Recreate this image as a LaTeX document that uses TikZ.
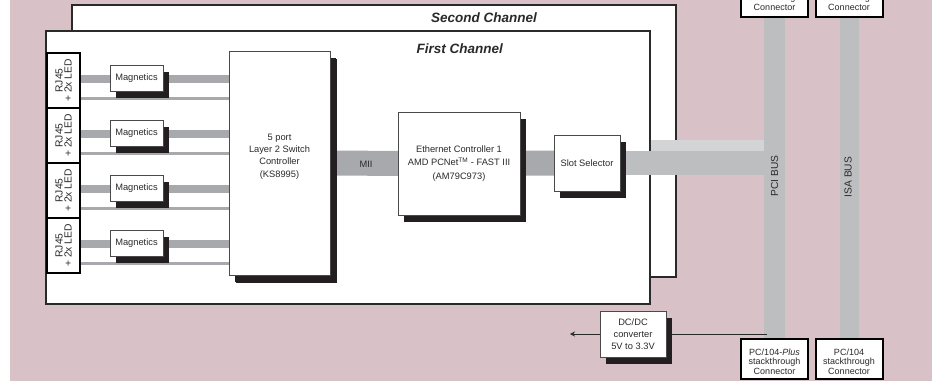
\documentclass[tikz,border=0pt]{standalone}
\usepackage{fontspec}
\setmainfont{Liberation Sans}
\usetikzlibrary{shadows,arrows.meta}
\definecolor{bgpink}{HTML}{D8C1C7}
\definecolor{bardark}{HTML}{A7A9AC}
\definecolor{barmid}{HTML}{BCBEC0}
\definecolor{barlight}{HTML}{D3D4D6}
\definecolor{shad}{HTML}{231F20}
\definecolor{ink}{HTML}{2A2A2A}
\pgfdeclarelayer{bg}
\pgfdeclarelayer{bars}
\pgfsetlayers{bg,bars,main}
\tikzset{
  blk/.style={draw=ink!85, line width=0.8pt, fill=white, inner sep=1pt, align=center,
    text=ink, font=\fontsize{9.3}{12.5}\selectfont,
    drop shadow={shadow xshift=6pt, shadow yshift=-7pt, opacity=1, fill=shad}},
  txt/.style={inner sep=0pt, align=center, text=ink, font=\fontsize{9.3}{12.3}\selectfont},
  rjbox/.style={rotate=90, draw=black, line width=2pt, fill=white, minimum width=55pt,
    minimum height=33pt, inner sep=0pt, align=center, text=ink,
    font=\fontsize{10.3}{9}\selectfont},
  conbox/.style={draw=black, line width=2pt, fill=white, minimum width=67pt,
    minimum height=40pt, inner sep=0pt},
  contxt/.style={inner sep=0pt, align=center, text=ink, font=\fontsize{9}{9.7}\selectfont},
  chanbox/.style={draw=ink, line width=1.2pt, fill=white},
  chantitle/.style={font=\fontsize{13.5}{14}\selectfont\bfseries\itshape, text=ink, inner sep=0pt},
  buslabel/.style={rotate=90, inner sep=0pt, text=ink, font=\fontsize{10.2}{11}\selectfont},
  thickbar/.style={draw=bardark, line width=8pt},
  thinbar/.style={draw=bardark, line width=3pt},
  wbar/.style={draw=bardark, line width=25pt},
  midbar/.style={draw=barmid, line width=24pt},
  lightbar/.style={draw=barlight, line width=24pt},
  busbar/.style={draw=barmid},
  wire/.style={draw=ink, line width=0.8pt}
}
\begin{document}
\begin{tikzpicture}[x=1pt,y=-1pt]
\useasboundingbox (0,0) rectangle (932,381);

% ---------------- nodes (main layer)
\node[chantitle, anchor=east] (title2) at (537,18) {Second Channel};
\node[chantitle, anchor=east] (title1) at (503,48.5) {First Channel};

\node[rjbox] (rj1) at (63.5,80.5) {RJ45\\+ 2x LED};
\node[rjbox] (rj2) at (63.5,135.5) {RJ45\\+ 2x LED};
\node[rjbox] (rj3) at (63.5,190.5) {RJ45\\+ 2x LED};
\node[rjbox] (rj4) at (63.5,245.5) {RJ45\\+ 2x LED};

\node[blk, minimum width=53pt, minimum height=26pt] (mag1) at (136.5,78) {Magnetics};
\node[blk, minimum width=53pt, minimum height=26pt] (mag2) at (136.5,133) {Magnetics};
\node[blk, minimum width=53pt, minimum height=26pt] (mag3) at (136.5,188) {Magnetics};
\node[blk, minimum width=53pt, minimum height=26pt] (mag4) at (136.5,243) {Magnetics};

\node[blk, minimum width=101pt, minimum height=224pt,
  drop shadow={shadow xshift=7pt, shadow yshift=-8pt, opacity=1, fill=shad}] (sw) at (279.5,163) {};
\node[txt] (swlabel) at ([yshift=6.5pt]sw.center) {5 port\\Layer 2 Switch\\Controller\\(KS8995)};

\node[txt] (mii) at (366,164) {MII};

\node[blk, minimum width=122pt, minimum height=103pt, font=\fontsize{9.3}{13.3}\selectfont] (eth) at (459,163.5)
  {Ethernet Controller 1\\AMD PCNet\textsuperscript{TM} - FAST III\\(AM79C973)};

\node[blk, minimum width=66pt, minimum height=56pt] (slot) at (587,163) {Slot Selector};

\node[blk, minimum width=66pt, minimum height=46pt, font=\fontsize{9.3}{12}\selectfont] (dc) at (633,334)
  {DC/DC\\converter\\5V to 3.3V};
\coordinate (dcout) at (570,334);
\coordinate (tap) at (767,334);

\node[conbox] (top1) at (774.5,-3) {};
\node[conbox] (top2) at (849,-3) {};
\node[contxt] (top1text) at (774.5,2.2) {stackthrough\\Connector};
\node[contxt] (top2text) at (849,2.2) {stackthrough\\Connector};
\node[conbox] (bot1) at (774.5,359) {};
\node[conbox] (bot2) at (849,359) {};
\node[contxt] (bot1text) at (774.5,361.5) {PC/104-\textit{Plus}\\stackthrough\\Connector};
\node[contxt] (bot2text) at (849,361.5) {PC/104\\stackthrough\\Connector};

\node[buslabel] (pcilabel) at (774.5,176) {PCI BUS};
\node[buslabel] (isalabel) at (848,177) {ISA BUS};

% ---------------- background layer
\begin{pgfonlayer}{bg}
  \fill[bgpink] (10,0) rectangle (932,381);
  \draw[chanbox] (72,5) rectangle (676,277);
  \coordinate (ch2a) at (620,152);
  \coordinate (ch2b) at (766,152);
  \draw[lightbar] (ch2a) -- (ch2b);
  \draw[chanbox] (46,31) rectangle (650,304);
\end{pgfonlayer}

% ---------------- connectors (bars layer)
\begin{pgfonlayer}{bars}
  \foreach \i in {1,2,3,4}{
    \draw[thickbar] ([yshift=1.5pt]rj\i.center) -- ([yshift=1.5pt]rj\i.center -| sw.west);
    \draw[thinbar] ([yshift=-17.5pt]rj\i.center) -- ([yshift=-17.5pt]rj\i.center -| sw.west);
  }
  \draw[wbar] (sw.center) -- (eth.center);
  \draw[wbar] (eth.center) -- (slot.center);
  \draw[midbar] (slot.center) -- (slot.center -| top1.center);
  \draw[busbar, line width=21pt] (top1.center) -- (bot1.center);
  \draw[busbar, line width=19pt] (top2.center) -- (bot2.center);
  \draw[wire] (tap) -- (dc.center);
  \draw[wire, -{Stealth[length=5pt,width=5pt]}] (dc.center) -- (dcout);
\end{pgfonlayer}
\end{tikzpicture}
\end{document}
